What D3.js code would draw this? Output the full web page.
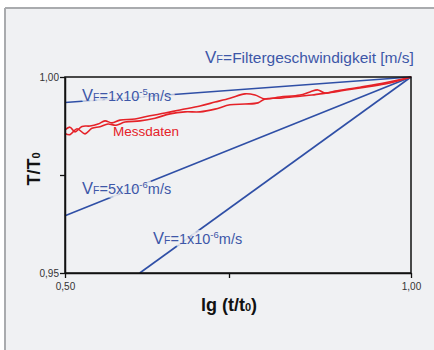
<!DOCTYPE html>
<html><head><meta charset="utf-8">
<script src="https://cdn.jsdelivr.net/npm/d3@7"></script>
<style>
html,body{margin:0;padding:0;background:#fff;}
svg{display:block;font-family:"Liberation Sans",Arial,sans-serif;}
</style></head>
<body><svg id="c" width="434" height="350"></svg>
<script>
// ---- data ----
const xDomain = [0.5, 1.0];
const yDomain = [0.95, 1.0];
const xTicks = [0.5, 0.737, 1.0];
const xTickLabels = ["0,50", "", "1,00"];
const yTicks = [0.95, 0.975, 1.0];
const yTickLabels = ["0,95", "", "1,00"];

const vfNames = ["1x10-5", "5x10-6", "1x10-6"];
const vfStartX = [0.5, 0.5, 0.608];
const vfStartY = [0.9935, 0.9646, 0.95];
const vfEndX = [1.0, 1.0, 1.0];
const vfEndY = [1.0, 1.0, 1.0];

const messA_x = [0.5,0.5072,0.5145,0.5246,0.5361,0.5477,0.5578,0.5679,0.5795,0.6012,0.6228,0.6445,0.6662,0.6951,0.7168,0.7384,0.7601,0.7746,0.7890,0.8107,0.8396,0.8540,0.8656,0.8757,0.8902,0.9263,0.9624,1.0];
const messA_y = [0.9865,0.9872,0.9860,0.9874,0.9875,0.9880,0.9888,0.9883,0.9890,0.9893,0.9901,0.9908,0.9916,0.9926,0.9936,0.9946,0.9957,0.9954,0.9944,0.9949,0.9954,0.9962,0.9967,0.9959,0.9964,0.9974,0.9985,1.0];
const messB_x = [0.5,0.5072,0.5173,0.5289,0.5390,0.5506,0.5621,0.5737,0.5867,0.6084,0.6301,0.6517,0.6734,0.6951,0.7168,0.7384,0.7601,0.7789,0.7890,0.8107,0.8396,0.8569,0.8685,0.8902,0.9263,0.9624,1.0];
const messB_y = [0.9856,0.9853,0.9868,0.9855,0.9869,0.9873,0.9880,0.9877,0.9885,0.9888,0.9895,0.9906,0.9911,0.9911,0.9918,0.9929,0.9931,0.9934,0.9944,0.9946,0.9951,0.9954,0.9957,0.9962,0.9972,0.9982,1.0];

// ---- chart ----
const svg = d3.select("#c");
const bg = "#f0f1f3";
svg.append("rect").attr("x",0).attr("y",0).attr("width",434).attr("height",350).attr("fill","#fff");
svg.append("rect").attr("x",5).attr("y",8).attr("width",429).attr("height",342).attr("fill",bg);
svg.append("line").attr("x1",5).attr("y1",8).attr("x2",434).attr("y2",8).attr("stroke","#a9abae").attr("stroke-width",2);
svg.append("line").attr("x1",5).attr("y1",8).attr("x2",5).attr("y2",350).attr("stroke","#a9abae").attr("stroke-width",2);

const L=65, R=411, T=77, B=273;
const x = d3.scaleLinear().domain(xDomain).range([L,R]);
const y = d3.scaleLinear().domain(yDomain).range([B,T]);

const blue = "#2f4fa6", red = "#e52228", labelBlue = "#3d57a8";

// blue lines
const lineG = svg.append("g");
vfNames.forEach((n,i)=>{
  lineG.append("line")
    .attr("x1",x(vfStartX[i])).attr("y1",y(vfStartY[i]))
    .attr("x2",x(vfEndX[i])).attr("y2",y(vfEndY[i]))
    .attr("stroke",blue).attr("stroke-width",1.6);
});

// measured data
const line = d3.line().x(d=>x(d[0])).y(d=>y(d[1])).curve(d3.curveCatmullRom.alpha(0.5));
[[messA_x,messA_y],[messB_x,messB_y]].forEach(([xs,ys])=>{
  svg.append("path").attr("d",line(xs.map((v,i)=>[v,ys[i]])))
    .attr("fill","none").attr("stroke",red).attr("stroke-width",1.6);
});

// labels with soft halo
function vfText(px,py,num,exp,halo){
  const t = svg.append("text").attr("x",px).attr("y",py).attr("font-size",14.5);
  if(halo){
    t.attr("fill","none").attr("stroke",bg).attr("stroke-width",8).attr("stroke-opacity",0.7).attr("stroke-linejoin","round");
  } else {
    t.attr("fill",labelBlue);
  }
  t.append("tspan").attr("font-size",16.5).text("V");
  t.append("tspan").attr("font-size",10.5).text("F");
  t.append("tspan").text("="+num);
  t.append("tspan").attr("font-size",9.5).attr("dy",-6).text(exp);
  t.append("tspan").attr("dy",6).text("m/s");
}
function vfLabel(px,py,num,exp){ vfText(px,py,num,exp,true); vfText(px,py,num,exp,false); }
vfLabel(82,101,"1x10","-5");
vfLabel(82,194,"5x10","-6");
vfLabel(153,244,"1x10","-6");

// title
const tt = svg.append("text").attr("x",205).attr("y",63).attr("fill",labelBlue).attr("font-size",15.5);
tt.append("tspan").attr("font-size",17).text("V");
tt.append("tspan").attr("font-size",11).text("F");
tt.append("tspan").text("=Filtergeschwindigkeit [m/s]");

svg.append("text").attr("x",113).attr("y",136).attr("fill",red).attr("font-size",13.5).text("Messdaten");

// frame
svg.append("rect").attr("x",L).attr("y",T).attr("width",R-L).attr("height",B-T)
  .attr("fill","none").attr("stroke","#111").attr("stroke-width",1.5);

// axes
const xAxis = d3.axisBottom(x).tickValues(xTicks).tickFormat((d,i)=>xTickLabels[i]).tickSize(5).tickSizeOuter(0);
const gx = svg.append("g").attr("transform",`translate(0,${B})`).call(xAxis);
const yAxis = d3.axisLeft(y).tickValues(yTicks).tickFormat((d,i)=>yTickLabels[i]).tickSize(5).tickSizeOuter(0);
const gy = svg.append("g").attr("transform",`translate(${L},0)`).call(yAxis);
[gx,gy].forEach(g=>{
  g.select(".domain").attr("stroke","#111").attr("stroke-width",1.5);
  g.selectAll(".tick line").attr("stroke","#111").attr("stroke-width",1.3);
  g.selectAll(".tick text").attr("fill","#333").attr("font-size",10).attr("font-family","Liberation Sans, Arial, sans-serif");
});
gx.selectAll(".tick text").attr("dy","0.9em");
gy.selectAll(".tick text").attr("x",-6);

// axis titles
const xt = svg.append("text").attr("x",229).attr("y",311).attr("text-anchor","middle")
  .attr("font-size",18).attr("font-weight","bold").attr("fill","#111");
xt.append("tspan").text("lg (t/t");
xt.append("tspan").attr("font-size",11).text("0");
xt.append("tspan").text(")");

const yt = svg.append("text").attr("transform","translate(40,169) rotate(-90)").attr("text-anchor","middle")
  .attr("font-size",18).attr("font-weight","bold").attr("fill","#111");
yt.append("tspan").text("T/T");
yt.append("tspan").attr("font-size",11).text("0");
</script></body></html>
